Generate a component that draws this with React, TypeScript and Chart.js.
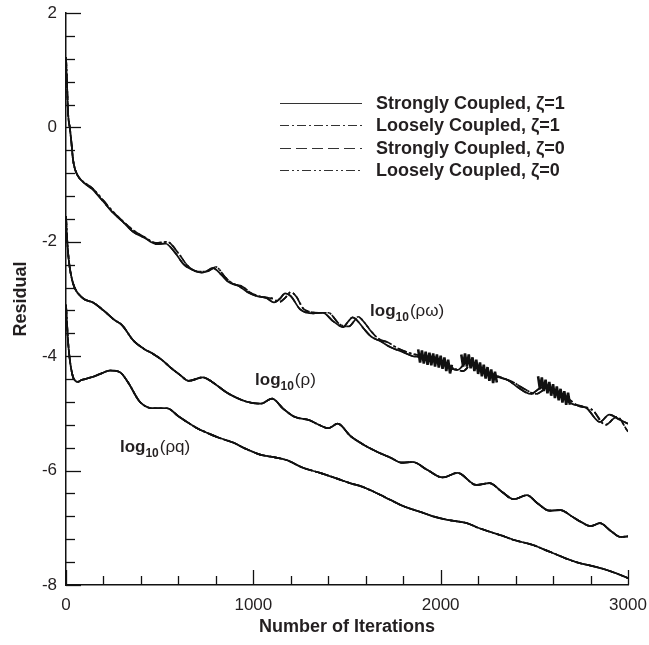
import React, { useEffect, useRef } from 'react';
import { Chart, registerables } from 'chart.js';

Chart.register(...registerables);

// ---- data ----
const LEGEND_LABELS = ['Strongly Coupled, ζ=1', 'Loosely Coupled, ζ=1', 'Strongly Coupled, ζ=0', 'Loosely Coupled, ζ=0'];
const X_TICKS = [0, 1000, 2000, 3000];
const Y_TICKS = [-8, -6, -4, -2, 0, 2];

// log10(rho*omega)
const RHOW_ITER = [0,5,11,21,30,37,50,75,100,140,200,250,300,360,420,480,530,580,630,690,730,785,830,870,920,970,1020,1070,1110,1140,1170,1200,1250,1320,1370,1430,1480,1505,1530,1555,1590,1630,1680,1730,1800,1870,1940,2000,2090,2140,2200,2300,2360,2410,2480,2540,2600,2690,2780,2850,2900,2950,3000];
const RHOW_STRONG = [1.23,0.8,0.25,-0.02,-0.3,-0.55,-0.75,-0.9,-0.98,-1.08,-1.3,-1.49,-1.64,-1.83,-1.93,-2.04,-2.03,-2.18,-2.4,-2.51,-2.54,-2.46,-2.58,-2.71,-2.77,-2.88,-2.95,-2.98,-3.06,-3.0,-2.9,-2.95,-3.18,-3.25,-3.24,-3.4,-3.49,-3.4,-3.32,-3.38,-3.52,-3.66,-3.74,-3.84,-3.93,-4.01,-4.01,-4.12,-4.24,-4.11,-4.22,-4.36,-4.42,-4.54,-4.66,-4.55,-4.58,-4.82,-4.91,-5.15,-5.02,-5.1,-5.18];
const RHOW_LOOSE_ITER = [0,5,11,21,30,37,50,75,100,140,200,250,300,360,420,480,540,600,650,700,750,800,850,890,940,990,1040,1100,1140,1170,1200,1230,1270,1350,1400,1460,1510,1535,1560,1590,1625,1670,1720,1770,1840,1910,1970,2040,2120,2170,2240,2330,2390,2440,2510,2570,2640,2730,2810,2880,2940,3000];
const RHOW_LOOSE = [1.23,0.8,0.25,-0.02,-0.3,-0.55,-0.75,-0.9,-0.97,-1.06,-1.28,-1.47,-1.63,-1.8,-1.92,-2.02,-2.0,-2.2,-2.42,-2.52,-2.52,-2.44,-2.62,-2.73,-2.78,-2.9,-2.96,-2.99,-3.05,-2.98,-2.88,-2.96,-3.18,-3.24,-3.24,-3.44,-3.48,-3.4,-3.31,-3.4,-3.55,-3.7,-3.76,-3.86,-3.95,-4.0,-4.02,-4.16,-4.26,-4.12,-4.26,-4.38,-4.46,-4.56,-4.66,-4.56,-4.64,-4.86,-4.94,-5.2,-5.06,-5.32];
// dense oscillation bursts on the loosely coupled rho*omega residual
const BLOB_ITER = [1880,1890,1900,1910,1920,1930,1940,1950,1960,1970,1980,1990,2000,2010,2020,2030,2040,2050,2060,2085,2110,2120,2130,2140,2150,2160,2170,2180,2190,2200,2210,2220,2230,2240,2250,2260,2270,2280,2290,2300,2400,2520,2530,2540,2550,2560,2570,2580,2590,2600,2610,2620,2630,2640,2650,2660,2670,2680,2690];
const BLOB_VAL = [-3.88,-4.11,-3.9,-4.13,-3.92,-4.15,-3.94,-4.16,-3.95,-4.18,-3.97,-4.2,-3.99,-4.22,-4.02,-4.26,-4.06,-4.3,-4.15,null,-3.97,-4.18,-3.95,-4.18,-3.97,-4.21,-4.02,-4.26,-4.06,-4.31,-4.11,-4.35,-4.15,-4.39,-4.19,-4.43,-4.23,-4.47,-4.27,-4.46,null,-4.35,-4.58,-4.37,-4.61,-4.41,-4.65,-4.45,-4.69,-4.49,-4.73,-4.53,-4.77,-4.57,-4.81,-4.61,-4.85,-4.64,-4.85];

// log10(rho)
const RHO_ITER = [0,5,10,20,37,55,75,100,144,200,260,300,358,420,460,510,555,610,655,730,780,860,913,970,1040,1100,1160,1220,1300,1350,1400,1450,1520,1590,1660,1730,1790,1850,1930,2010,2090,2190,2260,2330,2390,2460,2520,2580,2640,2700,2750,2800,2850,2910,2960,3000];
const RHO = [-1.55,-1.9,-2.15,-2.45,-2.72,-2.86,-2.94,-3.01,-3.06,-3.2,-3.37,-3.46,-3.72,-3.88,-3.95,-4.06,-4.19,-4.33,-4.43,-4.37,-4.45,-4.64,-4.73,-4.8,-4.83,-4.74,-4.92,-5.06,-5.12,-5.2,-5.26,-5.18,-5.4,-5.55,-5.67,-5.77,-5.86,-5.85,-5.99,-6.12,-6.04,-6.25,-6.22,-6.38,-6.5,-6.43,-6.58,-6.7,-6.69,-6.8,-6.9,-6.97,-6.92,-7.06,-7.16,-7.15];

// log10(rho*q)
const RHOQ_ITER = [0,5,10,20,37,50,64,80,100,144,190,235,288,330,395,464,539,600,646,700,753,820,892,960,1036,1100,1180,1265,1356,1447,1516,1580,1623,1700,1799,1890,1960,2034,2141,2200,2264,2330,2387,2493,2560,2621,2680,2744,2800,2870,2940,3000];
const RHOQ = [-3.1,-3.4,-3.7,-4.05,-4.36,-4.43,-4.45,-4.42,-4.4,-4.36,-4.3,-4.25,-4.28,-4.45,-4.8,-4.91,-4.91,-5.05,-5.15,-5.26,-5.34,-5.43,-5.51,-5.62,-5.72,-5.76,-5.82,-5.95,-6.04,-6.14,-6.22,-6.28,-6.34,-6.46,-6.62,-6.72,-6.8,-6.86,-6.92,-7.0,-7.07,-7.14,-7.21,-7.3,-7.39,-7.47,-7.55,-7.62,-7.66,-7.72,-7.8,-7.88];

// curve annotations: [iteration, residual, subscript text]
const CURVE_LABELS: [number, number, string][] = [
  [1623, -3.3, 'ρω'],
  [1009, -4.5, 'ρ'],
  [288, -5.67, 'ρq'],
];

const FONT = "'Liberation Sans', Arial, Helvetica, sans-serif";
const INK = '#231f20';

export default function App() {
  const ref = useRef<HTMLCanvasElement>(null);

  useEffect(() => {
    const canvas = ref.current;
    if (!canvas) return;
    const dashes: number[][] = [[], [9, 3, 2, 3], [11, 5], [9, 3, 2, 3, 2, 3]];
    const pts = (xs: number[], ys: (number | null)[]) => xs.map((x, i) => ({ x, y: ys[i] }));

    const groups = [
      { strong: pts(RHOW_ITER, RHOW_STRONG), loose: pts(RHOW_LOOSE_ITER, RHOW_LOOSE) },
      { strong: pts(RHO_ITER, RHO), loose: pts(RHO_ITER, RHO) },
      { strong: pts(RHOQ_ITER, RHOQ), loose: pts(RHOQ_ITER, RHOQ) },
    ];
    const datasets: any[] = [];
    groups.forEach((g) => {
      [3, 2, 1, 0].forEach((k) => {
        datasets.push({
          label: LEGEND_LABELS[k],
          data: k % 2 === 0 ? g.strong : g.loose,
          borderColor: '#111',
          borderWidth: 1.7,
          borderDash: dashes[k],
          borderJoinStyle: 'round',
          pointRadius: 0,
          fill: false,
          cubicInterpolationMode: 'monotone',
        });
      });
    });
    datasets.push({
      label: 'burst',
      data: pts(BLOB_ITER, BLOB_VAL),
      borderColor: '#111',
      borderWidth: 2.6,
      borderJoinStyle: 'bevel',
      pointRadius: 0,
      fill: false,
      tension: 0,
      spanGaps: false,
    });

    const overlay = {
      id: 'overlay',
      afterDraw(chart: any) {
        const { ctx, chartArea: a, scales } = chart;
        const xs = scales.x;
        const ys = scales.y;
        ctx.save();
        ctx.strokeStyle = '#111';
        ctx.lineWidth = 1.3;
        // inward ticks, y (minor every 0.4)
        const yMin = Y_TICKS[0];
        const yMax = Y_TICKS[Y_TICKS.length - 1];
        const nY = Math.round((yMax - yMin) / 0.4);
        for (let i = 0; i <= nY; i++) {
          const v = yMin + i * 0.4;
          const py = Math.round(ys.getPixelForValue(v)) + 0.5;
          const major = i % 5 === 0;
          ctx.beginPath();
          ctx.moveTo(a.left, py);
          ctx.lineTo(a.left + (major ? 15 : 9), py);
          ctx.stroke();
        }
        // inward ticks, x (minor every 200)
        const xMax = X_TICKS[X_TICKS.length - 1];
        const nX = Math.round(xMax / 200);
        for (let i = 0; i <= nX; i++) {
          const v = i * 200;
          const px = Math.round(xs.getPixelForValue(v)) + 0.5;
          const major = i % 5 === 0;
          ctx.beginPath();
          ctx.moveTo(px, a.bottom);
          ctx.lineTo(px, a.bottom - (major ? 15 : 9));
          ctx.stroke();
        }
        // legend
        ctx.lineWidth = 1;
        ctx.strokeStyle = '#333';
        ctx.fillStyle = INK;
        ctx.textBaseline = 'middle';
        ctx.textAlign = 'left';
        ctx.font = `bold 18px ${FONT}`;
        LEGEND_LABELS.forEach((lab, i) => {
          const ry = a.top + 90 + i * 22.4;
          ctx.setLineDash(dashes[i]);
          ctx.beginPath();
          ctx.moveTo(a.left + 214, Math.round(ry) + 0.5);
          ctx.lineTo(a.left + 296, Math.round(ry) + 0.5);
          ctx.stroke();
          ctx.setLineDash([]);
          ctx.fillText(lab, a.left + 310, ry + 1);
        });
        // curve labels
        ctx.textBaseline = 'alphabetic';
        CURVE_LABELS.forEach(([it, val, sub]) => {
          const px = xs.getPixelForValue(it);
          const py = ys.getPixelForValue(val);
          ctx.font = `bold 17px ${FONT}`;
          ctx.fillText('log', px, py);
          const w1 = ctx.measureText('log').width;
          ctx.font = `bold 12px ${FONT}`;
          ctx.fillText('10', px + w1, py + 5);
          const w2 = ctx.measureText('10').width;
          ctx.font = `17px ${FONT}`;
          ctx.fillText('(' + sub + ')', px + w1 + w2 + 1, py);
        });
        ctx.restore();
      },
    };

    const chart = new Chart(canvas, {
      type: 'line',
      data: { datasets },
      options: {
        responsive: false,
        animation: false,
        devicePixelRatio: 1,
        layout: { padding: { left: 0, top: 13, right: 21, bottom: 0 } },
        plugins: { legend: { display: false }, tooltip: { enabled: false } },
        scales: {
          x: {
            type: 'linear',
            min: X_TICKS[0],
            max: X_TICKS[X_TICKS.length - 1],
            afterFit: (s: any) => { s.height = 60; s.paddingLeft = 0; s.paddingRight = 0; },
            afterBuildTicks: (s: any) => { s.ticks = X_TICKS.map((v) => ({ value: v })); },
            grid: { display: false, drawTicks: false },
            border: { display: true, color: '#111', width: 1.5 },
            ticks: {
              padding: 10,
              maxRotation: 0,
              color: INK,
              font: { family: FONT, size: 17 },
              callback: (v: any) => String(v),
            },
            title: {
              display: true,
              text: 'Number of Iterations',
              color: INK,
              font: { family: FONT, size: 18, weight: 'bold' },
              padding: { top: 0, bottom: 7 },
            },
          },
          y: {
            type: 'linear',
            min: Y_TICKS[0],
            max: Y_TICKS[Y_TICKS.length - 1],
            afterFit: (s: any) => { s.width = 66; s.paddingTop = 0; s.paddingBottom = 0; },
            afterBuildTicks: (s: any) => { s.ticks = Y_TICKS.map((v) => ({ value: v })); },
            grid: { display: false, drawTicks: false },
            border: { display: true, color: '#111', width: 1.5 },
            ticks: {
              padding: 9,
              color: INK,
              font: { family: FONT, size: 17 },
              callback: (v: any) => String(v),
            },
            title: {
              display: true,
              text: 'Residual',
              color: INK,
              font: { family: FONT, size: 18, weight: 'bold' },
              padding: { top: 10, bottom: 0 },
            },
          },
        },
      },
      plugins: [overlay],
    } as any);

    return () => chart.destroy();
  }, []);

  return (
    <canvas
      ref={ref}
      width={649}
      height={645}
      style={{ position: 'fixed', left: 0, top: 0, display: 'block' }}
    />
  );
}
